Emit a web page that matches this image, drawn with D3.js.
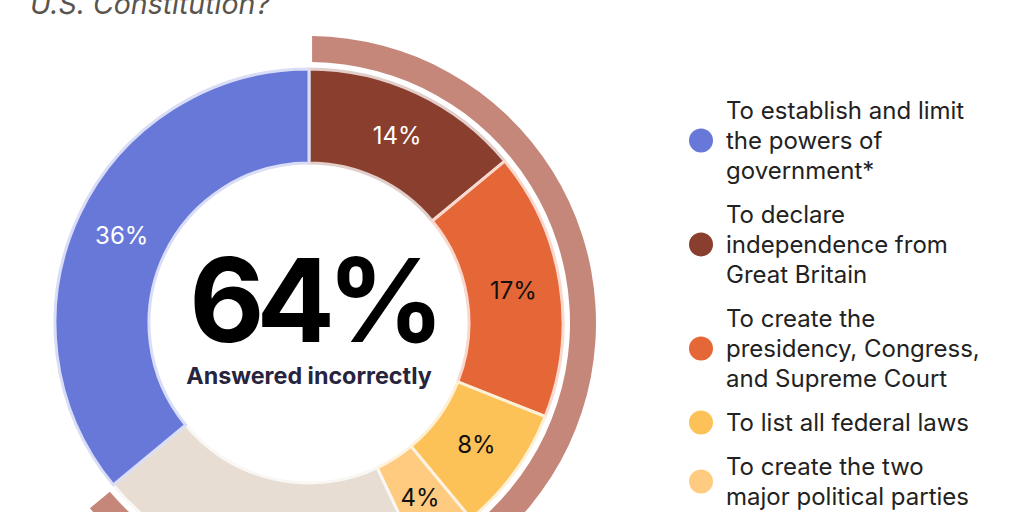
<!DOCTYPE html>
<html lang="en">

<head>
    <meta charset="utf-8">
    <script src="https://cdn.jsdelivr.net/npm/d3@7/dist/d3.min.js"></script>
    <style>
        body { margin: 0; background: #fff; overflow: hidden; }
        svg { display: block; font-family: Inter, "Noto Sans", sans-serif; }
    </style>
</head>

<body>
    <script>
        // answers, clockwise from the top of the donut
        const answers = ['To declare independence from Great Britain',
            'To create the presidency, Congress, and Supreme Court',
            'To list all federal laws',
            'To create the two major political parties',
            'Other / not sure',
            'To establish and limit the powers of government*'];
        const shares = [14, 17, 8, 4, 21, 36];
        const correct = [false, false, false, false, false, true];
        const colors = ['#893e2e', '#e56637', '#fcc157', '#fecb80', '#e7ddd3', '#6878d9'];
        const labelColors = ['#fff', '#111', '#111', '#111', '#111', '#fff'];
        const showLabel = [true, true, true, true, false, true];

        // legend order and wrapped lines (only the entries that fit on the page)
        const legendOrder = [5, 0, 1, 2, 3];
        const legendLines = [
            ['To establish and limit', 'the powers of', 'government*'],
            ['To declare', 'independence from', 'Great Britain'],
            ['To create the', 'presidency, Congress,', 'and Supreme Court'],
            ['To list all federal laws'],
            ['To create the two', 'major political parties']
        ];

        const titleLine = 'U.S. Constitution?';
        const centerCaption = 'Answered incorrectly';

        const width = 1024, height = 512;
        const cx = 309, cy = 323;
        const inner = 160, outer = 254;
        const ringInner = 261, ringOuter = 287;

        const svg = d3.select('body').append('svg')
            .attr('width', width)
            .attr('height', height);

        svg.append('text')
            .attr('x', 30)
            .attr('y', 14)
            .attr('fill', '#5a544e')
            .attr('font-size', 28.5)
            .attr('font-style', 'italic')
            .text(titleLine);

        const g = svg.append('g')
            .attr('transform', 'translate(' + cx + ',' + cy + ')');

        const total = d3.sum(shares);
        const wrong = d3.sum(shares.filter((d, i) => !correct[i]));

        // outer ring for the share answering incorrectly
        const ringArc = d3.arc()
            .innerRadius(ringInner)
            .outerRadius(ringOuter)
            .padAngle(0.016);
        g.append('path')
            .attr('d', ringArc({ startAngle: 0, endAngle: 2 * Math.PI * wrong / total }))
            .attr('fill', '#c5877a');

        const pie = d3.pie().sort(null).value(d => d);
        const arcs = pie(shares);

        const arc = d3.arc().innerRadius(inner).outerRadius(outer);
        const labelArc = d3.arc().innerRadius((inner + outer) / 2).outerRadius((inner + outer) / 2);

        g.selectAll('path.slice')
            .data(arcs)
            .enter()
            .append('path')
            .attr('class', 'slice')
            .attr('d', arc)
            .attr('fill', (d, i) => colors[i])
            .attr('stroke', (d, i) => d3.interpolateRgb(colors[i], '#fff')(0.75))
            .attr('stroke-width', 3)
            .attr('stroke-linejoin', 'round');

        g.selectAll('text.pct')
            .data(arcs.filter((d, i) => showLabel[i]))
            .enter()
            .append('text')
            .attr('class', 'pct')
            .attr('transform', d => 'translate(' + labelArc.centroid(d) + ')')
            .attr('text-anchor', 'middle')
            .attr('dy', '0.36em')
            .attr('font-size', 24)
            .attr('fill', d => labelColors[d.index])
            .text(d => d.data + '%');

        g.append('text')
            .attr('text-anchor', 'middle')
            .attr('x', 4)
            .attr('y', 19)
            .attr('font-size', 116)
            .attr('font-weight', 700)
            .attr('letter-spacing', -8)
            .attr('fill', '#000')
            .text(Math.round(100 * wrong / total) + '%');

        g.append('text')
            .attr('text-anchor', 'middle')
            .attr('y', 61)
            .attr('font-size', 23.3)
            .attr('font-weight', 700)
            .attr('fill', '#27243d')
            .text(centerCaption);

        // legend
        const lineH = 30, gap = 14;
        let yPos = 119;
        const legend = svg.append('g').attr('class', 'legend');
        legendOrder.forEach((k, j) => {
            const lines = legendLines[j];
            const item = legend.append('g');
            const top = yPos - 17;
            const bottom = yPos + (lines.length - 1) * lineH;
            item.append('circle')
                .attr('cx', 701)
                .attr('cy', (top + bottom) / 2)
                .attr('r', 12)
                .attr('fill', colors[k]);
            item.selectAll('text')
                .data(lines)
                .enter()
                .append('text')
                .attr('x', 726)
                .attr('y', (d, i) => yPos + i * lineH)
                .attr('font-size', 24)
                .attr('fill', '#222')
                .text(d => d);
            yPos = bottom + lineH + gap;
        });
    </script>
</body>

</html>
